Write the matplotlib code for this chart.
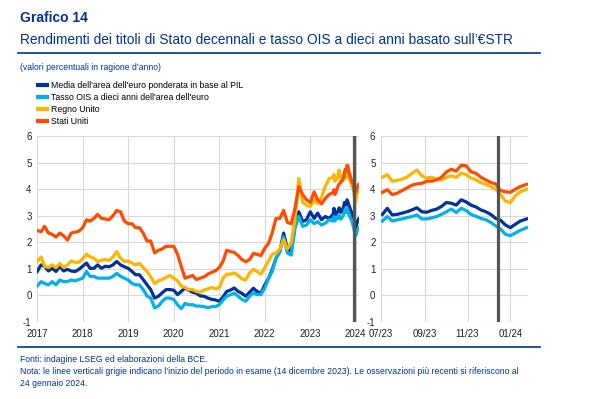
import numpy as np
import pandas as pd
import matplotlib
matplotlib.use("Agg")
import matplotlib.pyplot as plt
import matplotlib.dates as mdates
from matplotlib.lines import Line2D

plt.rcParams['font.family'] = ['Liberation Sans', 'DejaVu Sans']
plt.rcParams['axes.unicode_minus'] = False

# monthly readings, Jan 2017 - Jun 2023
monthly_dates = pd.date_range("2017-01-01", "2023-06-01", freq="MS")

us_m = [2.45, 2.4, 2.6, 2.35, 2.3, 2.2, 2.35, 2.25, 2.08, 2.35, 2.38, 2.42,
        2.55, 2.85, 2.8, 2.9, 3.05, 2.9, 2.88, 2.85, 3.0, 3.2, 3.15, 2.8,
        2.7, 2.7, 2.55, 2.55, 2.35, 2.05, 2.05, 1.6, 1.7, 1.75, 1.85, 1.85,
        1.85, 1.55, 1.1, 0.65, 0.7, 0.75, 0.6, 0.65, 0.7, 0.8, 0.87, 0.93,
        1.05, 1.3, 1.7, 1.65, 1.62, 1.5, 1.35, 1.27, 1.35, 1.58, 1.55, 1.5,
        1.78, 1.97, 2.35, 2.9, 2.9, 3.2, 2.75, 2.7, 3.3, 4.1, 3.8, 3.6,
        3.5, 3.9, 3.6, 3.45, 3.65, 3.8]
uk_m = [1.28, 1.45, 1.1, 1.05, 1.15, 1.05, 1.2, 1.05, 1.15, 1.3, 1.25, 1.25,
        1.38, 1.55, 1.45, 1.4, 1.28, 1.33, 1.35, 1.32, 1.45, 1.65, 1.4, 1.28,
        1.3, 1.22, 1.15, 1.2, 1.05, 0.9, 0.7, 0.45, 0.55, 0.6, 0.68, 0.75,
        0.65, 0.55, 0.35, 0.3, 0.22, 0.22, 0.15, 0.12, 0.2, 0.25, 0.3, 0.25,
        0.3, 0.65, 0.8, 0.8, 0.85, 0.75, 0.62, 0.58, 0.85, 0.98, 0.9, 0.8,
        1.05, 1.3, 1.55, 1.6, 1.75, 2.1, 1.75, 2.0, 2.9, 4.4, 3.5, 3.4,
        3.35, 3.6, 3.45, 3.7, 4.1, 4.4]
ea_m = [0.9, 1.15, 1.1, 0.92, 1.02, 0.9, 1.1, 0.92, 0.98, 0.92, 0.9, 0.98,
        1.1, 1.22, 1.02, 1.02, 1.15, 1.02, 1.1, 1.08, 1.15, 1.28, 1.15, 1.08,
        1.02, 0.9, 0.78, 0.78, 0.6, 0.4, 0.22, -0.1, -0.03, 0.1, 0.22, 0.22,
        0.2, 0.03, 0.15, 0.28, 0.2, 0.12, 0.08, -0.02, -0.03, -0.1, -0.15, -0.17,
        -0.22, -0.05, 0.15, 0.2, 0.28, 0.15, 0.08, -0.03, 0.12, 0.27, 0.15, 0.08,
        0.4, 0.65, 0.97, 1.4, 1.65, 2.35, 1.75, 1.65, 2.65, 3.15, 2.78, 2.85,
        3.15, 2.9, 3.1, 2.85, 2.97, 2.9]
ois_m = [0.35, 0.52, 0.45, 0.4, 0.52, 0.4, 0.58, 0.52, 0.52, 0.58, 0.55, 0.6,
         0.65, 0.9, 0.72, 0.72, 0.65, 0.65, 0.65, 0.65, 0.72, 0.83, 0.72, 0.65,
         0.58, 0.45, 0.4, 0.4, 0.22, -0.02, -0.1, -0.47, -0.4, -0.22, -0.1, -0.1,
         -0.15, -0.35, -0.5, -0.3, -0.35, -0.35, -0.4, -0.4, -0.42, -0.47, -0.42, -0.42,
         -0.35, -0.17, -0.03, 0.03, 0.08, -0.03, -0.15, -0.22, -0.03, 0.1, 0.03, 0.03,
         0.28, 0.65, 0.9, 1.4, 1.65, 2.2, 1.6, 1.52, 2.55, 2.97, 2.6, 2.65,
         2.85, 2.7, 2.78, 2.65, 2.72, 2.85]

# weekly readings, Jul 2023 - 24 Jan 2024
weekly_dates = pd.to_datetime([
    "2023-07-03", "2023-07-10", "2023-07-17", "2023-07-24", "2023-07-31",
    "2023-08-07", "2023-08-14", "2023-08-21", "2023-08-28", "2023-09-04",
    "2023-09-11", "2023-09-18", "2023-09-25", "2023-10-02", "2023-10-09",
    "2023-10-16", "2023-10-23", "2023-10-30", "2023-11-06", "2023-11-13",
    "2023-11-20", "2023-11-27", "2023-12-04", "2023-12-11", "2023-12-18",
    "2023-12-25", "2024-01-01", "2024-01-08", "2024-01-15", "2024-01-24"])

us_w = [3.88, 3.98, 3.8, 3.85, 3.95, 4.05, 4.15, 4.2, 4.22, 4.3,
        4.3, 4.35, 4.45, 4.65, 4.75, 4.68, 4.9, 4.88, 4.65, 4.6,
        4.45, 4.35, 4.25, 4.2, 3.95, 3.9, 3.88, 4.0, 4.1, 4.18]
uk_w = [4.45, 4.55, 4.3, 4.33, 4.38, 4.45, 4.6, 4.72, 4.5, 4.42,
        4.45, 4.38, 4.35, 4.45, 4.5, 4.45, 4.6, 4.55, 4.42, 4.35,
        4.25, 4.18, 4.1, 4.0, 3.8, 3.55, 3.5, 3.75, 3.9, 4.0]
ea_w = [3.05, 3.28, 3.03, 3.05, 3.1, 3.15, 3.22, 3.3, 3.15, 3.13,
        3.2, 3.25, 3.35, 3.5, 3.47, 3.4, 3.6, 3.52, 3.4, 3.33,
        3.22, 3.15, 3.05, 2.9, 2.83, 2.65, 2.55, 2.68, 2.8, 2.88]
ois_w = [2.8, 2.97, 2.8, 2.85, 2.88, 2.93, 2.97, 3.03, 2.88, 2.88,
         2.92, 2.97, 3.05, 3.15, 3.25, 3.12, 3.28, 3.2, 3.05, 2.98,
         2.9, 2.85, 2.75, 2.62, 2.5, 2.3, 2.25, 2.35, 2.45, 2.55]

labels = ["Media dell'area dell'euro ponderata in base al PIL",
          "Tasso OIS a dieci anni dell'area dell'euro",
          "Regno Unito",
          "Stati Uniti"]
colors = ["#003299", "#00B1EA", "#FFB400", "#FF4B00"]

start_date = pd.Timestamp("2023-12-14")
blue = "#003299"

all_dates = monthly_dates.append(weekly_dates)
left_series = [ea_m + ea_w, ois_m + ois_w, uk_m + uk_w, us_m + us_w]
right_series = [ea_w, ois_w, uk_w, us_w]

fig = plt.figure(figsize=(6, 3.99), dpi=100)
ax1 = fig.add_axes([0.062, 0.193, 0.537, 0.466])
ax2 = fig.add_axes([0.635, 0.193, 0.245, 0.466])

for ax, dates, series in [(ax1, all_dates, left_series), (ax2, weekly_dates, right_series)]:
    for vals, c in zip(series, colors):
        ax.plot(dates, vals, color=c, lw=2.3, solid_joinstyle='round')
    ax.axvline(start_date, color="#555555", lw=2.3, zorder=5)
    ax.set_ylim(-1, 6)
    ax.set_yticks(range(-1, 7))
    ax.grid(True, color="#d9d9d9", lw=0.8)
    ax.set_axisbelow(True)
    for s in ax.spines.values():
        s.set_visible(False)
    ax.tick_params(length=0, labelsize=7, colors="#222222")
    ax.tick_params(axis='x', pad=5)
    ax.tick_params(axis='y', pad=4)

ax1.set_xlim(pd.Timestamp("2017-01-01"), pd.Timestamp("2024-01-30"))
ax1.set_xticks(pd.date_range("2017-01-01", "2024-01-01", freq="YS"))
ax1.xaxis.set_major_formatter(mdates.DateFormatter("%Y"))

ax2.set_xlim(pd.Timestamp("2023-07-01"), pd.Timestamp("2024-01-26"))
ax2.set_xticks(pd.to_datetime(["2023-07-01", "2023-09-01", "2023-11-01", "2024-01-01"]))
ax2.xaxis.set_major_formatter(mdates.DateFormatter("%m/%y"))

# header
fig.text(0.033, 0.955, "Grafico 14", fontsize=10, fontweight="bold", color=blue, va="center")
fig.text(0.033, 0.900, "Rendimenti dei titoli di Stato decennali e tasso OIS a dieci anni basato sull\u2019\u20acSTR",
         fontsize=9.9, color=blue, va="center")
fig.add_artist(Line2D([0.03, 0.9], [0.867, 0.867], color=blue, lw=1.2))
fig.text(0.033, 0.831, "(valori percentuali in ragione d\u2019anno)", fontsize=6.2, color=blue, va="center")

handles = [Line2D([], [], color=c, lw=3) for c in colors]
fig.legend(handles, labels, loc="upper left", bbox_to_anchor=(0.058, 0.805), frameon=False,
           fontsize=6.3, handlelength=1.0, handletextpad=0.5, labelspacing=0.32, borderaxespad=0)

# footer
fig.add_artist(Line2D([0.03, 0.9], [0.130, 0.130], color=blue, lw=1.2))
fig.text(0.033, 0.098, "Fonti: indagine LSEG ed elaborazioni della BCE.", fontsize=6.2, color=blue, va="center")
fig.text(0.033, 0.068, "Nota: le linee verticali grigie indicano l\u2019inizio del periodo in esame (14 dicembre 2023). "
         "Le osservazioni pi\u00f9 recenti si riferiscono al", fontsize=6.2, color=blue, va="center")
fig.text(0.033, 0.038, "24 gennaio 2024.", fontsize=6.2, color=blue, va="center")

fig.savefig("out.png", dpi=100)
